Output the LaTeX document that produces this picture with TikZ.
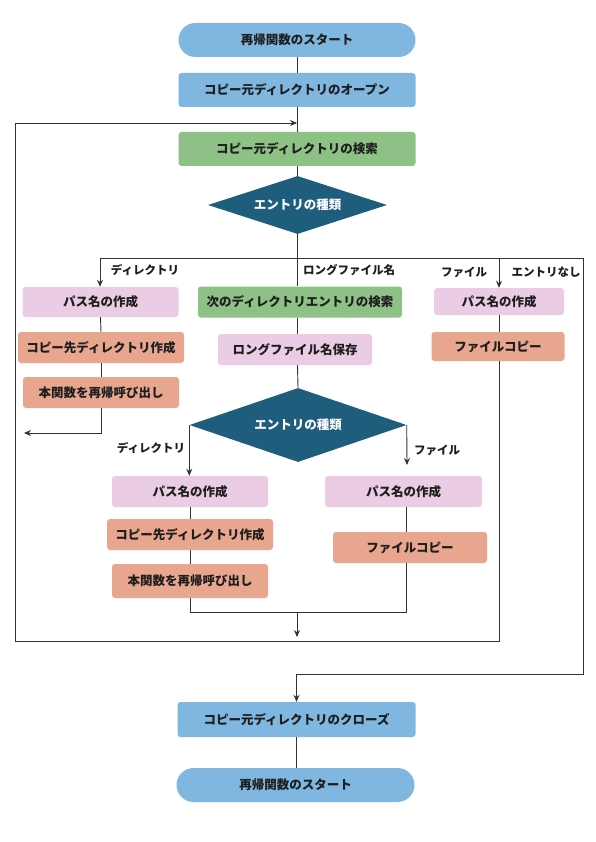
\documentclass[tikz,border=0pt]{standalone}
\usepackage{fontspec}
\newfontfamily\jp{Noto Sans CJK JP}
\usetikzlibrary{shapes.geometric,arrows.meta}
\definecolor{cblue}{HTML}{80B7E0}
\definecolor{cgreen}{HTML}{8DC185}
\definecolor{cdia}{HTML}{1F5D7C}
\definecolor{cpink}{HTML}{EACCE4}
\definecolor{csalmon}{HTML}{E9A68F}
\definecolor{cline}{HTML}{333333}
\definecolor{ctxt}{HTML}{1E1E1E}
\tikzset{
  box/.style={rectangle, rounded corners=3pt, inner sep=0pt, text=ctxt,
    font=\jp\bfseries\fontsize{12.5}{14}\selectfont},
  pill/.style={box, rounded corners=17pt},
  dia/.style={diamond, inner sep=0pt, fill=cdia, text=white,
    font=\jp\bfseries\fontsize{12.5}{14}\selectfont},
  lab/.style={inner sep=0pt, text=ctxt, font=\jp\bfseries\fontsize{11.5}{13}\selectfont},
  conn/.style={draw=cline, line width=0.9pt},
  arr/.style={conn, -{Stealth[length=7pt,width=6pt]}},
}
\begin{document}
\begin{tikzpicture}[x=1pt,y=-1pt]
\useasboundingbox[fill=white] (0,0) rectangle (595,842);
% main column
\node[pill, fill=cblue, minimum width=237pt, minimum height=34pt] (start) at (297,40) {再帰関数のスタート};
\node[box, fill=cblue, minimum width=237pt, minimum height=34pt] (open) at (297,90) {コピー元ディレクトリのオープン};
\node[box, fill=cgreen, minimum width=237pt, minimum height=34pt] (search) at (297,149) {コピー元ディレクトリの検索};
\node[dia, aspect=3.09, minimum width=179pt, minimum height=58pt] (d1) at (297.5,205) {エントリの種類};
% left branch
\node[box, fill=cpink, minimum width=156pt, minimum height=30pt] (pathL) at (100.5,302) {パス名の作成};
\node[box, fill=csalmon, minimum width=166pt, minimum height=31pt] (copyL) at (101,347.5) {コピー先ディレクトリ作成};
\node[box, fill=csalmon, minimum width=156pt, minimum height=31pt] (recurL) at (101,392.5) {本関数を再帰呼び出し};
% middle branch
\node[box, fill=cgreen, minimum width=204pt, minimum height=31pt] (next) at (300,302) {次のディレクトリエントリの検索};
\node[box, fill=cpink, minimum width=154pt, minimum height=31pt] (lfn) at (295,349.5) {ロングファイル名保存};
\node[dia, aspect=2.93, minimum width=217pt, minimum height=74pt] (d2) at (298,425) {エントリの種類};
\node[box, fill=cpink, minimum width=156pt, minimum height=31pt] (pathM1) at (190,491.5) {パス名の作成};
\node[box, fill=csalmon, minimum width=166pt, minimum height=31pt] (copyM) at (190,534.5) {コピー先ディレクトリ作成};
\node[box, fill=csalmon, minimum width=156pt, minimum height=34pt] (recurM) at (190,581) {本関数を再帰呼び出し};
\node[box, fill=cpink, minimum width=157pt, minimum height=31pt] (pathM2) at (403.5,491.5) {パス名の作成};
\node[box, fill=csalmon, minimum width=154pt, minimum height=31pt] (fileM) at (410,547.5) {ファイルコピー};
% right branch
\node[box, fill=cpink, minimum width=130pt, minimum height=27pt] (pathR) at (499,301.5) {パス名の作成};
\node[box, fill=csalmon, minimum width=133pt, minimum height=29pt] (fileR) at (498,346.5) {ファイルコピー};
% bottom
\node[box, fill=cblue, minimum width=238pt, minimum height=35pt] (close) at (296.5,719.5) {コピー元ディレクトリのクローズ};
\node[pill, fill=cblue, minimum width=238pt, minimum height=34pt] (end) at (295.5,785) {再帰関数のスタート};
% labels
\node[lab] (lDir1) at (145,270) {ディレクトリ};
\node[lab] (lLfn) at (349,270) {ロングファイル名};
\node[lab] (lFile1) at (464,272) {ファイル};
\node[lab] (lNone) at (546,272) {エントリなし};
\node[lab] (lDir2) at (151,448) {ディレクトリ};
\node[lab] (lFile2) at (437,450) {ファイル};
% coordinates
\coordinate (bl) at (100,258);
\coordinate (br) at (583,258);
\coordinate (loopin) at (297,123);
\coordinate (loopcorner) at (15,641);
\coordinate (lret) at (24,433);
\coordinate (fret) at (407,465);
\coordinate (mL) at (190,612);
\coordinate (mR) at (406,612);
\coordinate (mC) at (297,612);
\coordinate (mT) at (297,637);
\coordinate (fx) at (499,641);
% connectors main
\draw[conn] (start.south) -- (open.north);
\draw[conn] (open.south) -- (search.north);
\draw[conn] (search.south) -- (search.south |- d1.north);
\draw[conn] (d1.south) -- (d1.south |- next.north);
\draw[conn] (d1.south |- next.south) -- (d1.south |- lfn.north);
\draw[conn] (d1.south |- lfn.south) -- (d2.north);
\draw[conn] (bl) -- (br);
\draw[arr] (bl) -- (bl |- pathL.north);
\draw[arr] (fx |- bl) -- (fx |- pathR.north);
\draw[arr] (br) |- (close.north |- 0,674) -- (close.north);
\draw[conn] (close.south) -- (close.south |- end.north);
% left branch
\draw[conn] (pathL.south) -- (copyL.north);
\draw[conn] (copyL.south) -- (recurL.north);
\draw[arr] (recurL.south) |- (lret);
% right branch and loop
\draw[conn] (fx |- pathR.south) -- (fx |- fileR.north);
\draw[arr] (fx |- fileR.south) -- (fx) -- (loopcorner) |- (loopin);
% second diamond
\draw[arr] (d2.west) -- (d2.west |- pathM1.north);
\draw[arr] (d2.east) -- (fret);
\draw[conn] (pathM1.south) -- (copyM.north);
\draw[conn] (copyM.south) -- (recurM.north);
\draw[conn] (mR |- pathM2.south) -- (mR |- fileM.north);
\draw[conn] (recurM.south) -- (mL) -- (mR) -- (mR |- fileM.south);
\draw[arr] (mC) -- (mT);
\end{tikzpicture}
\end{document}
